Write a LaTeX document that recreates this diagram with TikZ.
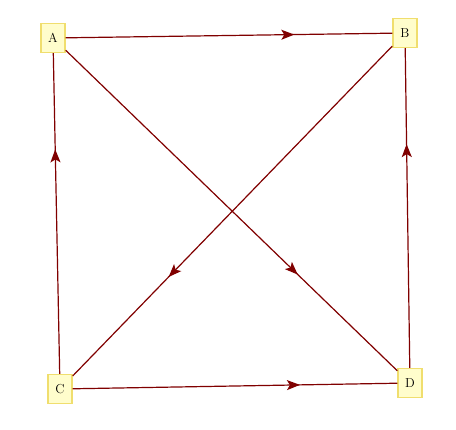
\documentclass[tikz,border=0pt]{standalone}
\usetikzlibrary{arrows.meta}
\usetikzlibrary{decorations.markings}
\definecolor{edgered}{RGB}{128,0,0}
\definecolor{boxfill}{RGB}{255,253,204}
\definecolor{boxline}{RGB}{240,222,110}

\begin{document}
\begin{tikzpicture}[x=1pt,y=-1pt,
  vertex/.style={draw=boxline,fill=boxfill,line width=1.4pt,minimum width=24pt,minimum height=29pt,inner sep=0pt,font=\fontsize{13}{15}\selectfont},
  edge/.style={edgered,line width=1.2pt,postaction={decorate},
    decoration={markings,mark=at position 0.7 with {\arrow{Stealth[length=13pt,width=10pt,inset=3pt]}}}}]
\useasboundingbox (0,0) rectangle (456,430);

\node[vertex] (A) at (53,38) {A};
\node[vertex] (B) at (405,33) {B};
\node[vertex] (C) at (60,389) {C};
\node[vertex] (D) at (410,383) {D};

\draw[edge] (A) -- (B);
\draw[edge] (A) -- (D);
\draw[edge] (B) -- (C);
\draw[edge] (C) -- (A);
\draw[edge] (C) -- (D);
\draw[edge] (D) -- (B);
\end{tikzpicture}
\end{document}
